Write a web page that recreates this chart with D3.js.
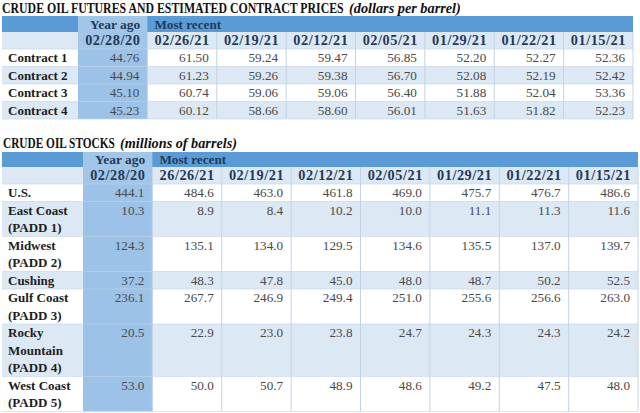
<!DOCTYPE html>
<html><head><meta charset="utf-8">
<script src="https://cdn.jsdelivr.net/npm/d3@7"></script>
<style>body{margin:0;background:#fff}svg{display:block}</style>
</head><body>
<script>
// ---------- DATA ----------
const priceTitle = "CRUDE OIL FUTURES AND ESTIMATED CONTRACT PRICES";
const priceUnit = "(dollars per barrel)";
const priceDates = ["02/28/20","02/26/21","02/19/21","02/12/21","02/05/21","01/29/21","01/22/21","01/15/21"];
const contracts = ["Contract 1","Contract 2","Contract 3","Contract 4"];
const contract1 = [44.76,61.50,59.24,59.47,56.85,52.20,52.27,52.36];
const contract2 = [44.94,61.23,59.26,59.38,56.70,52.08,52.19,52.42];
const contract3 = [45.10,60.74,59.06,59.06,56.40,51.88,52.04,53.36];
const contract4 = [45.23,60.12,58.66,58.60,56.01,51.63,51.82,52.23];

const stockTitle = "CRUDE OIL STOCKS";
const stockUnit = "(millions of barrels)";
const stockDates = ["02/28/20","26/26/21","02/19/21","02/12/21","02/05/21","01/29/21","01/22/21","01/15/21"];
const regions = [["U.S."],["East Coast","(PADD 1)"],["Midwest","(PADD 2)"],["Cushing"],["Gulf Coast","(PADD 3)"],["Rocky","Mountain","(PADD 4)"],["West Coast","(PADD 5)"]];
const usStock      = [444.1,484.6,463.0,461.8,469.0,475.7,476.7,486.6];
const eastStock    = [10.3,8.9,8.4,10.2,10.0,11.1,11.3,11.6];
const midwestStock = [124.3,135.1,134.0,129.5,134.6,135.5,137.0,139.7];
const cushingStock = [37.2,48.3,47.8,45.0,48.0,48.7,50.2,52.5];
const gulfStock    = [236.1,267.7,246.9,249.4,251.0,255.6,256.6,263.0];
const rockyStock   = [20.5,22.9,23.0,23.8,24.7,24.3,24.3,24.2];
const westStock    = [53.0,50.0,50.7,48.9,48.6,49.2,47.5,48.0];

const headYearAgo = "Year ago", headRecent = "Most recent";

// ---------- DRAW ----------
const W = 640, H = 413;
const svg = d3.select("body").append("svg").attr("width", W).attr("height", H);
const FONT = "'Liberation Serif', 'DejaVu Serif', serif";
const C = {band:"#5b9bd5", light:"#dde8f5", yago:"#a2c6e8", yagoData:"#9cc2e8", grid:"#c3d3e6",
           head:"#23395a", label:"#1e1e1e", val:"#4a4a4a"};

// title text squeezed horizontally to a target width (keeps glyph height)
function fitText(g, txt, xx, yy, target, italic){
  const el = g.append("text").attr("x", 0).attr("y", 0)
    .attr("font-family", FONT).attr("font-size", 14.5).attr("font-weight", "bold")
    .attr("font-style", italic ? "italic" : "normal").attr("fill", "#111").text(txt);
  const len = el.node().getComputedTextLength();
  el.attr("transform", `translate(${xx},${yy}) scale(${target / len},1)`);
  return el;
}

function drawTable(opt){
  const g = svg.append("g");
  const x = d3.scaleBand().domain(opt.dates).range([opt.x0, opt.x1]);
  const lineH = opt.lineH;
  const lines = opt.labels.map(l => l.length);
  const cum = d3.cumsum([0, ...lines]);
  const y = d3.scaleLinear().domain([0, d3.sum(lines)]).range([opt.dataTop, opt.dataTop + d3.sum(lines)*lineH]);
  const leftX = opt.left;

  // title (two parts)
  fitText(g, opt.title, opt.titleX, opt.titleY, opt.titleW1, false);
  fitText(g, opt.unit, opt.titleX + opt.titleW1 + 5, opt.titleY, opt.titleW2, true);

  // header row 1
  g.append("rect").attr("x", leftX).attr("y", opt.h1).attr("width", opt.x1 - leftX).attr("height", opt.h2 - opt.h1).attr("fill", C.band);
  g.append("rect").attr("x", x(opt.dates[0])).attr("y", opt.h1).attr("width", x.bandwidth()).attr("height", opt.dataTop - opt.h1).attr("fill", C.yago);
  // header row 2
  g.append("rect").attr("x", leftX).attr("y", opt.h2).attr("width", x(opt.dates[0]) - leftX).attr("height", opt.dataTop - opt.h2).attr("fill", C.light);
  g.append("rect").attr("x", x(opt.dates[1])).attr("y", opt.h2).attr("width", opt.x1 - x(opt.dates[1])).attr("height", opt.dataTop - opt.h2).attr("fill", C.light);

  // row bands
  opt.labels.forEach((lab, i) => {
    g.append("rect").attr("x", leftX).attr("y", y(cum[i])).attr("width", opt.x1 - leftX)
      .attr("height", y(cum[i+1]) - y(cum[i])).attr("fill", i % 2 ? C.light : "#fff");
  });
  // year-ago column data
  const bottom = y(cum[cum.length-1]);
  g.append("rect").attr("x", x(opt.dates[0])).attr("y", opt.dataTop).attr("width", x.bandwidth())
    .attr("height", bottom - opt.dataTop).attr("fill", C.yagoData);

  // grid lines
  opt.dates.slice(1).forEach(d => {
    g.append("line").attr("x1", x(d) + x.bandwidth()).attr("x2", x(d) + x.bandwidth())
      .attr("y1", opt.h2).attr("y2", bottom).attr("stroke", C.grid).attr("stroke-width", 1);
  });
  g.append("line").attr("x1", x(opt.dates[1])).attr("x2", x(opt.dates[1])).attr("y1", opt.h2).attr("y2", bottom).attr("stroke", C.grid);
  cum.forEach(c => {
    g.append("line").attr("x1", leftX).attr("x2", opt.x1).attr("y1", y(c)).attr("y2", y(c)).attr("stroke", C.grid).attr("stroke-width", 0.6);
  });

  // header texts
  const hdr = (txt, xx, yy, anchor, fs, ls) => g.append("text").attr("x", xx).attr("y", yy).attr("text-anchor", anchor)
      .attr("font-family", FONT).attr("font-weight", "bold").attr("font-size", fs).attr("letter-spacing", ls)
      .attr("fill", C.head).text(txt);
  hdr(headYearAgo, x(opt.dates[0]) + x.bandwidth() - 7, opt.h2 - 3.5, "end", 13.5, 0);
  hdr(headRecent, x(opt.dates[1]) + 7, opt.h2 - 3.5, "start", 13.2, 0);
  opt.dates.forEach(d => hdr(d, x(d) + x.bandwidth() - 7, opt.dataTop - 4, "end", 14.3, 0.55));

  // labels and values
  opt.labels.forEach((lab, i) => {
    lab.forEach((ln, k) => {
      g.append("text").attr("x", leftX + 6).attr("y", y(cum[i] + k) + lineH - 4.5)
        .attr("font-family", FONT).attr("font-weight", "bold").attr("font-size", 13).attr("fill", C.label).text(ln);
    });
    opt.values[i].forEach((v, j) => {
      g.append("text").attr("x", x(opt.dates[j]) + x.bandwidth() - 8).attr("y", y(cum[i]) + lineH - 4.5)
        .attr("text-anchor", "end").attr("font-family", FONT).attr("font-size", 13.2).attr("fill", C.val)
        .text(d3.format(opt.fmt)(v));
    });
  });
}

drawTable({title: priceTitle, unit: priceUnit, dates: priceDates, labels: contracts.map(c => [c]),
  values: [contract1, contract2, contract3, contract4], fmt: ".2f",
  left: 2, x0: 78, x1: 633, titleX: 2, titleW1: 342, titleW2: 112, titleY: 12.5, h1: 16, h2: 32, dataTop: 49, lineH: 17.5});

drawTable({title: stockTitle, unit: stockUnit, dates: stockDates, labels: regions,
  values: [usStock, eastStock, midwestStock, cushingStock, gulfStock, rockyStock, westStock], fmt: ".1f",
  left: 2, x0: 83, x1: 638, titleX: 3, titleW1: 112, titleW2: 117, titleY: 148, h1: 152, h2: 167, dataTop: 184, lineH: 17.5});
</script>
</body></html>
